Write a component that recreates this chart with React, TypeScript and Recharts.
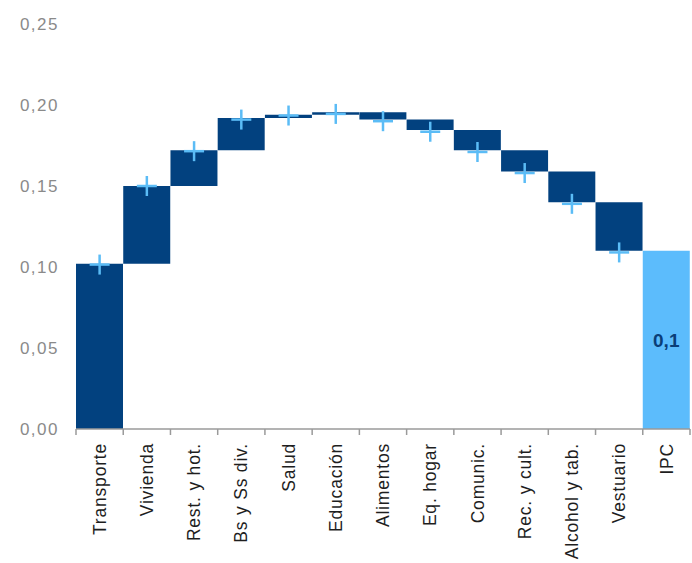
import React from 'react';
import { ComposedChart, Bar, Line, XAxis, YAxis, Cell, LabelList } from 'recharts';

const categories = ['Transporte', 'Vivienda', 'Rest. y hot.', 'Bs y Ss div.', 'Salud', 'Educación', 'Alimentos', 'Eq. hogar', 'Comunic.', 'Rec. y cult.', 'Alcohol y tab.', 'Vestuario', 'IPC'];
const startValues = [0, 0.102, 0.150, 0.172, 0.192, 0.194, 0.1955, 0.191, 0.1845, 0.172, 0.159, 0.140, 0];
const endValues = [0.102, 0.150, 0.172, 0.192, 0.194, 0.1955, 0.191, 0.1845, 0.172, 0.159, 0.140, 0.110, 0.110];
const markerValues: (number | null)[] = [0.1015, 0.150, 0.1715, 0.191, 0.1935, 0.1945, 0.190, 0.1835, 0.171, 0.158, 0.139, 0.109, null];
const totalLabel = '0,1';
const yTicks = [0, 0.05, 0.1, 0.15, 0.2, 0.25];

const DARK = '#02417f';
const LIGHT = '#5cbcfc';
const CROSS = '#5bbcf6';

const data = categories.map((name, i) => ({
  name,
  range: [Math.min(startValues[i], endValues[i]), Math.max(startValues[i], endValues[i])],
  marker: markerValues[i],
}));

const CHART_W = 692;
const CHART_H = 563;
const MARGIN = { top: 24, right: 2, left: 0, bottom: 0 };
const Y_W = 76;
const bandW = (CHART_W - MARGIN.left - MARGIN.right - Y_W) / categories.length;
const FONT = "'Liberation Sans', Arial, sans-serif";

const XTick = (props: any) => {
  const { x, y, payload, index } = props;
  const left = x - bandW / 2;
  const right = x + bandW / 2;
  return (
    <g>
      <line x1={left} x2={left} y1={y} y2={y + 6} stroke="#9a9a9a" strokeWidth={1.5} />
      {index === categories.length - 1 && (
        <line x1={right} x2={right} y1={y} y2={y + 6} stroke="#9a9a9a" strokeWidth={1.5} />
      )}
      <text
        x={x}
        y={y + 14}
        transform={`rotate(-90, ${x}, ${y + 14})`}
        textAnchor="end"
        dy="0.35em"
        fill="#1e1e1e"
        fontSize={17.5}
        letterSpacing={0.8}
        fontFamily={FONT}
      >
        {payload.value}
      </text>
    </g>
  );
};

const CrossDot = (props: any) => {
  const { cx, cy, payload } = props;
  if (payload.marker == null || cx == null || cy == null) return null;
  return (
    <g>
      <line x1={cx - 10} x2={cx + 10} y1={cy} y2={cy} stroke={CROSS} strokeWidth={2.5} />
      <line x1={cx} x2={cx} y1={cy - 10} y2={cy + 10} stroke={CROSS} strokeWidth={2.5} />
    </g>
  );
};

const TotalLabel = (props: any) => {
  const { x, y, width, height, index } = props;
  if (index !== categories.length - 1) return null;
  return (
    <text
      x={x + width / 2}
      y={y + height / 2}
      textAnchor="middle"
      dy="0.35em"
      fill="#0a3e78"
      fontWeight="bold"
      fontSize={19}
      fontFamily={FONT}
    >
      {totalLabel}
    </text>
  );
};

export default function App() {
  return (
    <div style={{ position: 'absolute', left: 0, top: 0, width: CHART_W, height: CHART_H, background: '#fff' }}>
      <ComposedChart width={CHART_W} height={CHART_H} data={data} margin={MARGIN} barCategoryGap={0}>
        <XAxis
          dataKey="name"
          interval={0}
          height={CHART_H - 429}
          tickSize={0}
          tickMargin={0}
          tickLine={false}
          axisLine={{ stroke: '#9a9a9a', strokeWidth: 1.5 }}
          tick={<XTick />}
        />
        <YAxis
          width={Y_W}
          domain={[0, 0.25]}
          ticks={yTicks}
          axisLine={false}
          tickLine={false}
          tickSize={6}
          tickMargin={11}
          tick={{ fill: '#8a8a8a', fontSize: 17, letterSpacing: 1.5, fontFamily: FONT }}
          tickFormatter={(v: number) => v.toFixed(2).replace('.', ',')}
        />
        <Bar dataKey="range" isAnimationActive={false}>
          {data.map((d, i) => (
            <Cell key={d.name} fill={i === categories.length - 1 ? LIGHT : DARK} />
          ))}
          <LabelList dataKey="range" content={<TotalLabel />} />
        </Bar>
        <Line
          dataKey="marker"
          stroke="none"
          dot={<CrossDot />}
          activeDot={false}
          isAnimationActive={false}
        />
      </ComposedChart>
    </div>
  );
}
